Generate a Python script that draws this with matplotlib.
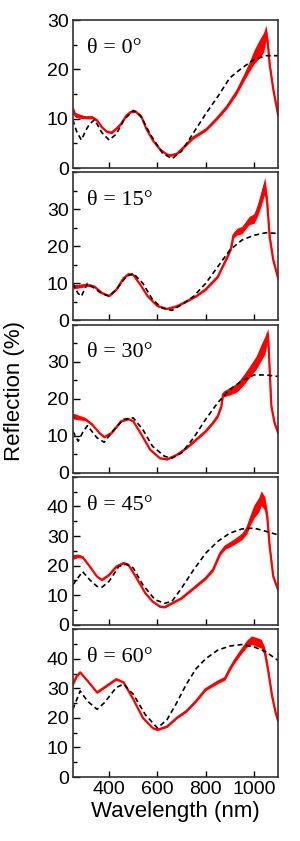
import matplotlib
matplotlib.use("Agg")
import matplotlib.pyplot as plt
import numpy as np
from matplotlib.ticker import MultipleLocator

plt.rcParams["font.family"] = ["Liberation Sans", "DejaVu Sans"]
plt.rcParams["font.size"] = 14

angles = [0, 15, 30, 45, 60]
y_max = [30, 40, 40, 50, 50]
y_labels = [[0, 10, 20, 30], [0, 10, 20, 30], [0, 10, 20, 30],
            [0, 10, 20, 30, 40], [0, 10, 20, 30, 40]]

meas_wl_0 = [250, 260, 280, 300, 330, 350, 370, 390, 410, 430, 450, 472, 490, 510, 535, 555,
             583, 611, 638, 655, 680, 700, 748, 803, 845, 887, 929, 960, 980, 1000, 1020, 1040,
             1050, 1058, 1065, 1080, 1100]
meas_0 = [11.8, 10.8, 10.5, 10.3, 10.3, 9.7, 8.3, 7.4, 7.2, 8.0, 9.0, 10.7, 11.4, 11.5, 10.3, 7.9,
          5.5, 3.8, 2.8, 2.6, 2.9, 3.8, 6.2, 7.9, 10.0, 12.4, 15.5, 18.5, 20.5, 22.5, 24.0, 25.5,
          27.5, 25.0, 21.0, 16.0, 10.7]
spread_0 = [0.8, 0.5, 0.4, 0.3, 0.3, 0.2, 0.2, 0.2, 0.2, 0.2, 0.2, 0.2, 0.2, 0.2, 0.2, 0.2,
            0.2, 0.2, 0.2, 0.2, 0.2, 0.2, 0.3, 0.3, 0.3, 0.4, 0.5, 0.7, 1.0, 1.4, 1.8, 2.0,
            1.5, 1.2, 0.8, 0.4, 0.3]

meas_wl_15 = [250, 280, 310, 340, 370, 400, 430, 460, 480, 500, 530, 560, 600, 640, 680, 720,
              760, 800, 850, 870, 890, 905, 915, 930, 950, 965, 980, 1000, 1015, 1030, 1045,
              1055, 1065, 1080, 1100]
meas_15 = [9.1, 9.3, 9.6, 9.1, 7.4, 6.6, 8.3, 11.4, 12.5, 12.3, 9.6, 6.5, 3.9, 3.1, 3.8, 5.1,
           6.5, 8.4, 11.8, 14.5, 17.2, 19.5, 23.0, 24.0, 24.4, 25.7, 27.0, 27.5, 29.8, 33.0, 36.5,
           31.6, 22.6, 16.3, 11.4]
spread_15 = [0.6, 0.5, 0.4, 0.3, 0.2, 0.2, 0.2, 0.2, 0.2, 0.2, 0.2, 0.2, 0.2, 0.2, 0.2, 0.2,
             0.2, 0.3, 0.3, 0.3, 0.4, 0.5, 0.8, 0.9, 1.0, 1.0, 1.1, 1.3, 1.6, 2.0, 2.2,
             1.8, 1.0, 0.5, 0.3]

meas_wl_30 = [250, 280, 300, 330, 360, 380, 410, 450, 480, 500, 530, 570, 610, 640, 680, 720,
              760, 800, 830, 850, 865, 872, 900, 930, 960, 990, 1010, 1030, 1045, 1058, 1065,
              1072, 1085, 1100]
meas_30 = [15.3, 14.8, 14.5, 13.0, 10.7, 9.6, 10.7, 13.9, 14.5, 13.9, 10.7, 6.2, 3.9, 3.6, 4.8, 6.6,
           8.9, 11.2, 13.5, 15.3, 18.0, 21.2, 22.0, 23.0, 25.3, 28.0, 29.8, 32.5, 34.4, 37.5, 28.0,
           18.0, 13.5, 10.7]
spread_30 = [0.8, 0.6, 0.4, 0.3, 0.2, 0.2, 0.2, 0.2, 0.2, 0.2, 0.2, 0.2, 0.2, 0.2, 0.2, 0.2,
             0.3, 0.3, 0.4, 0.4, 0.6, 0.8, 1.0, 1.2, 1.4, 1.6, 1.8, 2.2, 2.4, 1.5, 1.2,
             0.8, 0.5, 0.3]

meas_wl_45 = [250, 270, 290, 320, 350, 370, 400, 430, 460, 480, 510, 550, 580, 610, 630, 660,
              700, 750, 800, 830, 860, 880, 920, 950, 970, 985, 1000, 1020, 1030, 1045, 1055,
              1065, 1080, 1100]
meas_45 = [22.9, 23.3, 22.9, 19.7, 16.3, 15.2, 16.9, 19.7, 20.9, 20.3, 16.3, 10.7, 7.9, 6.2, 6.0, 7.3,
           9.0, 12.4, 15.8, 18.6, 24.2, 26.3, 28.2, 29.9, 32.1, 35.5, 38.3, 40.6, 42.8, 41.0, 36.6,
           26.5, 16.3, 11.8]
spread_45 = [0.8, 0.6, 0.4, 0.3, 0.3, 0.3, 0.3, 0.3, 0.3, 0.3, 0.3, 0.3, 0.3, 0.3, 0.3, 0.3,
             0.3, 0.4, 0.5, 0.6, 0.7, 0.8, 1.0, 1.1, 1.4, 1.8, 2.2, 2.5, 2.5, 2.3, 1.8,
             1.2, 0.6, 0.4]

meas_wl_60 = [250, 265, 280, 310, 350, 380, 430, 460, 500, 540, 580, 600, 640, 680, 720, 760,
              800, 850, 880, 900, 920, 950, 970, 990, 1010, 1030, 1045, 1060, 1075, 1090, 1100]
meas_60 = [31.4, 34.0, 35.4, 32.6, 28.6, 30.3, 33.1, 32.0, 26.3, 20.0, 16.6, 16.0, 17.1, 20.0, 22.3, 25.7,
           29.7, 32.2, 33.4, 36.6, 39.4, 42.9, 45.1, 46.3, 45.7, 45.1, 42.3, 35.4, 27.4, 21.7, 18.9]
spread_60 = [0.6, 0.4, 0.3, 0.3, 0.3, 0.3, 0.3, 0.3, 0.3, 0.3, 0.3, 0.3, 0.3, 0.3, 0.4, 0.4,
             0.5, 0.6, 0.6, 0.7, 0.8, 1.0, 1.2, 1.4, 1.5, 1.5, 1.5, 1.2, 0.8, 0.5, 0.4]

# simulated reflection (black dashed)
sim_wl_0 = [250, 265, 285, 305, 320, 340, 370, 400, 430, 460, 500, 530, 570, 620, 660, 700,
            750, 800, 850, 900, 950, 1000, 1050, 1100]
sim_0 = [9.8, 7.5, 5.7, 7.8, 9.0, 9.8, 7.2, 5.7, 6.9, 9.7, 11.7, 10.7, 6.9, 3.1, 1.9, 3.4,
         7.2, 11.0, 14.5, 18.3, 20.3, 22.0, 22.8, 22.8]

sim_wl_15 = [250, 270, 285, 310, 330, 370, 400, 430, 470, 500, 540, 580, 620, 660, 700, 750,
             800, 850, 900, 950, 1000, 1050, 1100]
sim_15 = [10.0, 7.4, 6.5, 10.0, 9.1, 7.2, 6.6, 8.3, 11.8, 12.7, 10.0, 5.6, 3.3, 2.7, 4.2, 6.5,
          10.0, 14.5, 19.0, 21.7, 23.0, 23.7, 23.5]

sim_wl_30 = [250, 272, 290, 310, 350, 380, 420, 460, 500, 540, 580, 630, 660, 700, 750, 800,
             850, 900, 950, 1000, 1050, 1100]
sim_30 = [11.2, 8.5, 10.8, 12.7, 9.4, 8.2, 11.6, 14.4, 14.8, 11.6, 7.1, 4.4, 3.9, 5.3, 9.4, 14.4,
          18.9, 22.5, 24.8, 26.4, 26.4, 26.0]

sim_wl_45 = [250, 270, 290, 320, 350, 370, 400, 440, 470, 500, 540, 590, 630, 660, 700, 750,
             800, 850, 900, 950, 1000, 1050, 1100]
sim_45 = [13.5, 15.8, 18.0, 15.2, 13.0, 12.7, 14.7, 19.7, 20.5, 19.2, 13.5, 8.5, 7.3, 7.9, 12.4, 18.6,
          24.2, 28.2, 31.0, 32.4, 32.7, 31.6, 30.4]

sim_wl_60 = [250, 280, 310, 350, 380, 430, 460, 500, 550, 600, 640, 680, 720, 760, 800, 850,
             900, 950, 1000, 1050, 1100]
sim_60 = [22.9, 29.1, 25.7, 22.9, 25.1, 30.3, 31.4, 28.0, 21.1, 16.6, 19.4, 25.1, 31.4, 36.6, 40.0, 42.9,
          44.3, 44.8, 44.0, 42.3, 39.4]

meas_wl = [meas_wl_0, meas_wl_15, meas_wl_30, meas_wl_45, meas_wl_60]
meas = [meas_0, meas_15, meas_30, meas_45, meas_60]
spread = [spread_0, spread_15, spread_30, spread_45, spread_60]
sim_wl = [sim_wl_0, sim_wl_15, sim_wl_30, sim_wl_45, sim_wl_60]
sim = [sim_0, sim_15, sim_30, sim_45, sim_60]

fig, axes = plt.subplots(5, 1, figsize=(3.0, 8.41), dpi=100, sharex=True)
plt.subplots_adjust(left=0.243, right=0.927, top=0.976, bottom=0.076, hspace=0.029)

for i, ax in enumerate(axes):
    x = np.array(meas_wl[i])
    y = np.array(meas[i])
    s = np.array(spread[i])
    ax.fill_between(x, y - s, y + s, color="#ff0000", lw=0)
    ax.plot(x, y, color="#ff0000", lw=1.6)
    ax.plot(sim_wl[i], sim[i], color="black", lw=1.2, ls=(0, (3, 2)))

    ax.set_xlim(250, 1100)
    ax.set_ylim(0, y_max[i])
    ax.set_yticks(y_labels[i])
    ax.yaxis.set_minor_locator(MultipleLocator(5))
    ax.set_xticks([400, 600, 800, 1000])
    ax.tick_params(which="both", direction="in", width=1, labelsize=14, pad=3)
    ax.tick_params(which="major", length=5)
    ax.tick_params(which="minor", length=3)
    ax.tick_params(axis="x", which="major", length=4)
    for sp in ax.spines.values():
        sp.set_linewidth(1.2)
        sp.set_color("#333333")

    ax.text(0.068, 0.81, "\u03b8 = %d\u00b0" % angles[i], transform=ax.transAxes,
            family=["Liberation Serif", "DejaVu Serif"], fontsize=16, va="center", ha="left")

axes[-1].set_xlabel("Wavelength (nm)", fontsize=16, labelpad=2)
fig.text(0.05, 0.535, "Reflection (%)", rotation=90, fontsize=16, ha="center", va="center")

fig.savefig("out.png", dpi=100)
